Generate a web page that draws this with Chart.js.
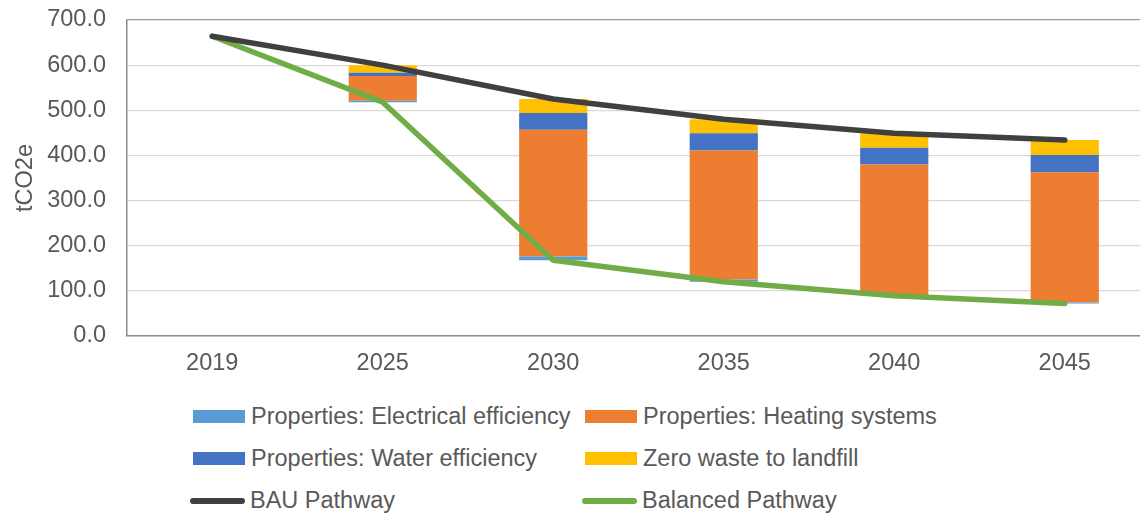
<!DOCTYPE html>
<html lang="en">

<head>
    <meta charset="UTF-8">
    <meta name="viewport" content="width=device-width, initial-scale=1.0">
    <title>Carbon Pathway</title>
    <script src="https://cdn.jsdelivr.net/npm/chart.js"></script>
    <style>
        body {
            margin: 0;
            overflow: hidden;
            background: #fff;
            font-family: "Liberation Sans", Arial, sans-serif;
        }

        #chartWrap {
            position: relative;
            width: 1150px;
            height: 390px;
        }

        /* two-column legend under the plot */
        #legend {
            position: absolute;
            left: 190px;
            top: 395px;
            display: grid;
            grid-template-columns: 392px 392px;
            grid-auto-rows: 42.4px;
            color: #595959;
            font-size: 23.5px;
        }

        .legend-item {
            display: flex;
            align-items: center;
            white-space: nowrap;
        }

        .legend-box {
            width: 52px;
            height: 12.7px;
            margin-left: 3px;
            margin-right: 6px;
        }

        .legend-line {
            width: 55px;
            height: 6px;
            border-radius: 3px;
            margin-right: 5px;
        }
    </style>
</head>

<body>
    <div id="chartWrap">
        <canvas id="pathwayChart"></canvas>
    </div>
    <div id="legend"></div>

    <script>
        // Years on the x axis
        const years = ['2019', '2025', '2030', '2035', '2040', '2045'];

        // Pathways (tCO2e)
        const bauPathway = [664, 600, 525, 480, 449, 434];
        const balancedPathway = [664, 518, 168, 120, 89, 72];

        // Savings by measure, stacked on top of the balanced pathway
        const electricalEfficiency = [0, 3, 8, 5, 1, 2];
        const heatingSystems = [0, 55, 281, 286, 290, 289];
        const waterEfficiency = [0, 7, 37, 38, 37, 38];
        const zeroWaste = [0, 17, 31, 31, 32, 33];

        const yTicks = [0, 100, 200, 300, 400, 500, 600, 700];

        const textColor = '#595959';
        const fontFamily = '"Liberation Sans", Arial, sans-serif';
        const fontSize = 23.5;

        const barDatasets = [
            { label: 'Properties: Electrical efficiency', data: electricalEfficiency, backgroundColor: '#5B9BD5' },
            { label: 'Properties: Heating systems', data: heatingSystems, backgroundColor: '#ED7D31' },
            { label: 'Properties: Water efficiency', data: waterEfficiency, backgroundColor: '#4472C4' },
            { label: 'Zero waste to landfill', data: zeroWaste, backgroundColor: '#FFC000' }
        ].map(ds => Object.assign(ds, { type: 'bar', stack: 'savings', order: 1, borderWidth: 0 }));

        const lineDatasets = [
            { label: 'BAU Pathway', data: bauPathway, borderColor: '#404040', stack: 'bau' },
            { label: 'Balanced Pathway', data: balancedPathway, borderColor: '#70AD47', stack: 'balanced' }
        ].map(ds => Object.assign(ds, {
            type: 'line', order: 0, borderWidth: 5.5, pointRadius: 0, tension: 0,
            borderJoinStyle: 'round', borderCapStyle: 'round', fill: false
        }));

        // invisible offset so the savings float between the two pathways
        const baseDataset = {
            type: 'bar', label: 'base', data: balancedPathway, stack: 'savings', order: 1,
            backgroundColor: 'rgba(0,0,0,0)', borderWidth: 0
        };

        const ctx = document.getElementById('pathwayChart').getContext('2d');
        new Chart(ctx, {
            data: {
                labels: years,
                datasets: [baseDataset, ...barDatasets, ...lineDatasets]
            },
            options: {
                responsive: true,
                maintainAspectRatio: false,
                animation: false,
                layout: { padding: { top: 20, right: 0, bottom: 0, left: 0 } },
                datasets: { bar: { categoryPercentage: 1, barPercentage: 0.4 } },
                plugins: {
                    legend: { display: false },
                    tooltip: { enabled: false }
                },
                scales: {
                    x: {
                        stacked: true,
                        grid: { display: false, drawTicks: false },
                        border: { display: true, color: '#8c8c8c', width: 1.5 },
                        ticks: { color: textColor, font: { family: fontFamily, size: fontSize }, padding: 13 },
                        afterFit: scale => { scale.height = 54; }
                    },
                    y: {
                        stacked: true,
                        min: 0,
                        max: 700,
                        afterBuildTicks: scale => { scale.ticks = yTicks.map(v => ({ value: v })); },
                        grid: {
                            drawTicks: false,
                            color: c => c.tick && c.tick.value === 700 ? '#9a9a9a' : '#d9d9d9',
                            lineWidth: 1.2
                        },
                        border: { display: true, color: '#8c8c8c', width: 1.5 },
                        ticks: {
                            color: textColor,
                            font: { family: fontFamily, size: fontSize },
                            padding: 21,
                            callback: v => Number(v).toFixed(1)
                        },
                        title: {
                            display: true,
                            text: 'tCO2e',
                            color: textColor,
                            font: { family: fontFamily, size: fontSize },
                            padding: { top: 11, bottom: 0 }
                        },
                        // fixed axis width; layout padding alone sets the top of the plot
                        afterFit: scale => {
                            scale.width = 127;
                            scale.paddingTop = 0;
                            scale.paddingBottom = 0;
                        }
                    }
                }
            }
        });

        // Legend: bars as filled boxes, pathways as thick rounded lines
        const legend = document.getElementById('legend');
        [...barDatasets, ...lineDatasets].forEach(ds => {
            const item = document.createElement('div');
            item.className = 'legend-item';
            const swatch = document.createElement('span');
            if (ds.type === 'bar') {
                swatch.className = 'legend-box';
                swatch.style.background = ds.backgroundColor;
            } else {
                swatch.className = 'legend-line';
                swatch.style.background = ds.borderColor;
            }
            const text = document.createElement('span');
            text.textContent = ds.label;
            item.appendChild(swatch);
            item.appendChild(text);
            legend.appendChild(item);
        });
    </script>
</body>

</html>
